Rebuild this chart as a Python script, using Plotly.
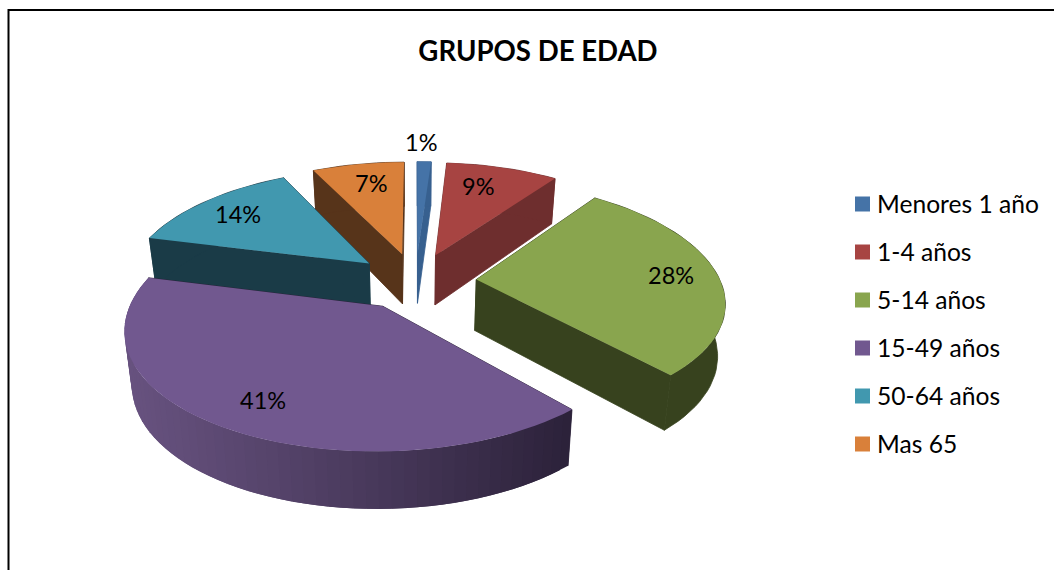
import numpy as np
import plotly.graph_objects as go

title = "GRUPOS DE EDAD"
categories = ["Menores 1 año", "1-4 años", "5-14 años", "15-49 años", "50-64 años", "Mas 65"]
values = [1.1, 8.9, 28.4, 40.5, 13.8, 7.3]
labels = ["1%", "9%", "28%", "41%", "14%", "7%"]

top_colors = ["#4573A7", "#A74442", "#89A54E", "#71588F", "#4198AF", "#D9803A"]
wall_colors = ["#37608F", "#6E2E2E", "#37421E", "#4A3A5E", "#1A3B47", "#57341A"]
label_pos = [(421, 141.5), (478, 185.5), (671, 274.5), (263, 399.5), (238, 213.5), (371, 182.5)]
draw_order = [5, 0, 1, 4, 2, 3]

W, H = 1054, 570
CX, CY, A, B, KX, KY, EXPLODE = 415.5, 281, 244, 114, 0.17, 0.155, 0.25
DEPTH, DEPTH_TILT, CONVERGE = 51, 0.105, 0.975
LEGEND_X, LEGEND_Y, LEGEND_STEP = 862.5, 204, 48


def project(u, v):
    return CX + A * u / (1 + KX * v), CY - B * v / (1 + KY * v)


def drop(u, v):
    x, y = project(u, v)
    return CX + (x - CX) * CONVERGE, y + DEPTH * (1 - DEPTH_TILT * v)


def mix(c1, c2, t):
    a = [int(c1[i:i + 2], 16) for i in (1, 3, 5)]
    b = [int(c2[i:i + 2], 16) for i in (1, 3, 5)]
    return "rgb(%d,%d,%d)" % tuple(round(p + (q - p) * t) for p, q in zip(a, b))


def poly(xs, ys, color, width=0):
    return go.Scatter(x=list(xs), y=list(ys), mode="lines", fill="toself", fillcolor=color,
                      line=dict(color=color, width=width), hoverinfo="skip", showlegend=False)


fig = go.Figure()
edges = np.cumsum([0] + values) / sum(values) * 2 * np.pi
for i in draw_order:
    t0, t1 = edges[i], edges[i + 1]
    mid = (t0 + t1) / 2
    ou, ov = EXPLODE * np.sin(mid), EXPLODE * np.cos(mid)
    th = np.linspace(t0, t1, max(4, int((t1 - t0) * 24)))
    us = np.concatenate([[ou], ou + np.sin(th)])
    vs = np.concatenate([[ov], ov + np.cos(th)])
    n = len(us)
    # radial walls
    for a, b in ((0, 1), (0, n - 1)):
        x1, y1 = project(us[a], vs[a]); x2, y2 = project(us[b], vs[b])
        x3, y3 = drop(us[b], vs[b]); x4, y4 = drop(us[a], vs[a])
        c = wall_colors[i] if i != 3 else "#2B2139"
        fig.add_trace(poly([x1, x2, x3, x4, x1], [y1, y2, y3, y4, y1], c, 0.8))
    # outer wall
    if i == 3:
        # painted one over the next, so no seam shows between the steps of the shading
        for j in range(1, n - 1):
            ju = us[j:min(j + 3, n)]
            jv = vs[j:min(j + 3, n)]
            tx, ty = project(ju, jv)
            bx, by = drop(ju, jv)
            xm = (tx[0] + tx[1]) / 2
            c = mix("#67527F", "#2B2139", min(1, max(0, (xm - 125) / 450)) ** 1.1)
            fig.add_trace(poly(list(tx) + list(bx[::-1]) + [tx[0]], list(ty) + list(by[::-1]) + [ty[0]], c))
    else:
        tx, ty = project(us[1:], vs[1:])
        bx, by = drop(us[1:], vs[1:])
        fig.add_trace(poly(list(tx) + list(bx[::-1]) + [tx[0]], list(ty) + list(by[::-1]) + [ty[0]], wall_colors[i], 0.8))
    # top face
    tx, ty = project(us, vs)
    fig.add_trace(poly(list(tx) + [tx[0]], list(ty) + [ty[0]], top_colors[i]))

# legend keys and texts
annotations = []
for i, name in enumerate(categories):
    y = LEGEND_Y + i * LEGEND_STEP
    fig.add_trace(go.Scatter(x=[LEGEND_X], y=[y], mode="markers", name=name, showlegend=False, hoverinfo="skip",
                             marker=dict(symbol="square", size=15, color=top_colors[i])))
    annotations.append(dict(x=874.5, y=y - 1, text=name, showarrow=False, xanchor="left", xref="x", yref="y",
                            font=dict(family="Lato", size=24.6, color="#000")))

annotations += [dict(x=x, y=y, text=t, showarrow=False, xref="x", yref="y",
                     font=dict(family="Lato", size=23.5, color="#000"))
                for t, (x, y) in zip(labels, label_pos)]

fig.update_layout(
    width=W, height=H, autosize=False, margin=dict(l=0, r=0, t=0, b=0),
    paper_bgcolor="white", plot_bgcolor="white",
    xaxis=dict(range=[0, W], visible=False, fixedrange=True),
    yaxis=dict(range=[H, 0], visible=False, fixedrange=True),
    title=dict(text="<b>%s</b>" % title, x=538 / W, y=1 - 51 / H, xanchor="center", yanchor="middle",
               font=dict(family="Lato", size=27.6, color="#000")),
    annotations=annotations,
    shapes=[dict(type="rect", x0=8.5, y0=10, x1=W + 10, y1=H + 10, xref="x", yref="y",
                 line=dict(color="#000", width=2))],
    showlegend=False,
)
fig.write_html("out.html", post_script="document.body.style.margin='0';document.body.style.overflow='hidden';",
               config=dict(displayModeBar=False))
